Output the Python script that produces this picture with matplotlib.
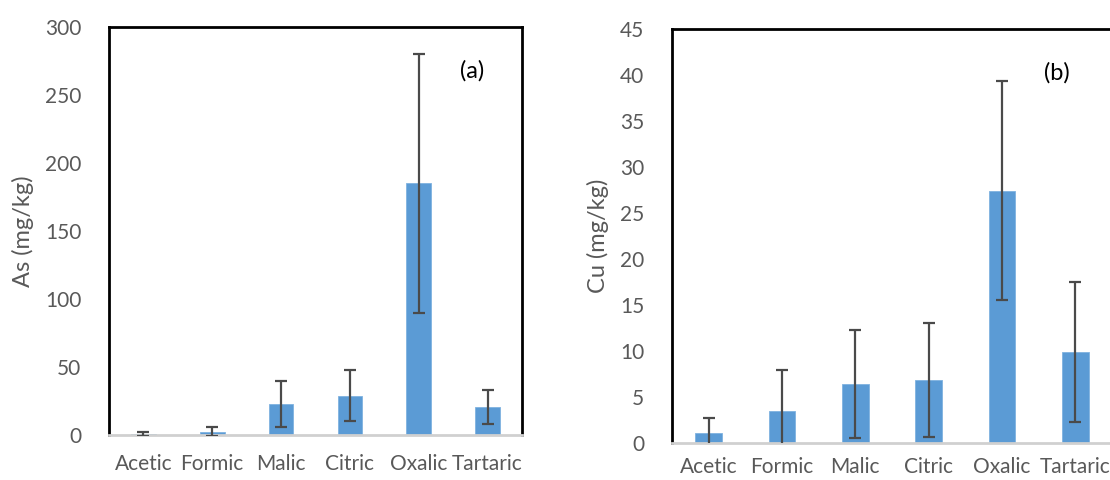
import matplotlib
matplotlib.use("Agg")
import matplotlib.pyplot as plt
import numpy as np

plt.rcParams['font.family'] = ['Lato', 'DejaVu Sans']

# data
acids = ["Acetic", "Formic", "Malic", "Citric", "Oxalic", "Tartaric"]
as_mean = [1.0, 2.5, 23.0, 29.0, 185.0, 20.5]
as_err = [1.5, 3.5, 17.0, 19.0, 95.0, 12.5]
cu_mean = [1.1, 3.5, 6.4, 6.8, 27.4, 9.9]
cu_err = [1.6, 4.4, 5.9, 6.2, 11.9, 7.6]

bar_col = "#5b9bd5"
txt_col = "#595959"

fig = plt.figure(figsize=(11.1, 4.8), dpi=100)
ax1 = fig.add_axes([109 / 1110, 1 - 435 / 480, 413 / 1110, 408 / 480])
ax2 = fig.add_axes([672 / 1110, 1 - 443 / 480, 440 / 1110, 414 / 480])


def panel(ax, means, errs, ymax, step, ylabel, tag, tag_xy, xpad):
    x = np.arange(len(acids))
    ax.bar(x, means, width=0.36, color=bar_col, edgecolor="#7fb2e0", linewidth=0.6, zorder=2)
    ax.errorbar(x, means, yerr=errs, fmt="none", ecolor="#4a4a4a", elinewidth=1.6,
                capsize=4.5, capthick=1.6, zorder=3)
    ax.set_xlim(-0.5, len(acids) - 0.5)
    ax.set_ylim(0, ymax)
    ax.set_yticks(np.arange(0, ymax + step / 2, step))
    ax.set_xticks(x)
    ax.set_xticklabels(acids)
    ax.tick_params(axis="both", length=0, labelsize=15, labelcolor=txt_col)
    ax.tick_params(axis="y", pad=20)
    ax.tick_params(axis="x", pad=xpad)
    ax.set_ylabel(ylabel, fontsize=17, color=txt_col, labelpad=8)
    for s in ("left", "top", "right"):
        ax.spines[s].set_color("black")
        ax.spines[s].set_linewidth(2)
    ax.spines["bottom"].set_color("#d0d0d0")
    ax.spines["bottom"].set_linewidth(2)
    ax.text(tag_xy[0], tag_xy[1], tag, transform=ax.transAxes, fontsize=17,
            color="black", ha="center", va="center")


panel(ax1, as_mean, as_err, 300, 50, "As (mg/kg)", "(a)", (0.88, 0.893), 14)
panel(ax2, cu_mean, cu_err, 45, 5, "Cu (mg/kg)", "(b)", (0.874, 0.894), 10)

fig.savefig("out.png", dpi=100)
